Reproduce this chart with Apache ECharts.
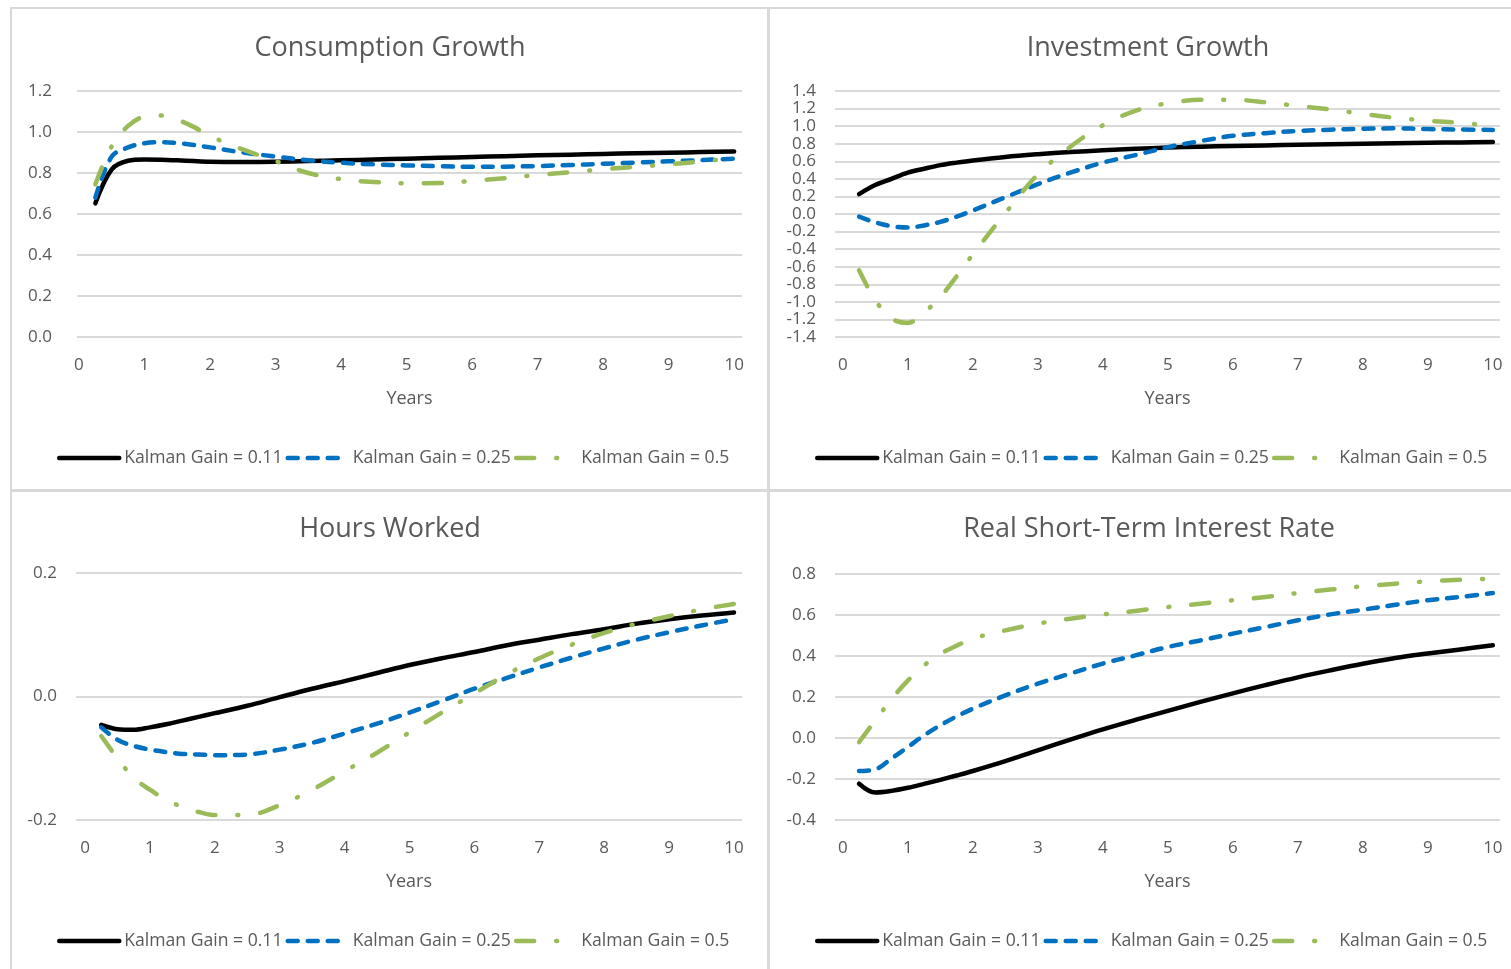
<!DOCTYPE html>
<html><head><meta charset="utf-8">
<script src="https://cdn.jsdelivr.net/npm/echarts@6/dist/echarts.min.js"></script>
<style>html,body{margin:0;padding:0;background:#fff}#c{width:1511px;height:969px}</style>
</head><body><div id="c"></div>
<script>
// ---- data ----
const years = [0.25,0.5,0.75,1,1.25,1.5,1.75,2,2.5,3,3.5,4,4.5,5,5.5,6,6.5,7,7.5,8,8.5,9,9.5,10];
const xTickLabels = [0,1,2,3,4,5,6,7,8,9,10];
const seriesNames = ['Kalman Gain = 0.11','Kalman Gain = 0.25','Kalman Gain = 0.5'];
const panelTitles = ['Consumption Growth','Investment Growth','Hours Worked','Real Short-Term Interest Rate'];

const consK011 = [0.652,0.818,0.860,0.866,0.865,0.862,0.858,0.855,0.854,0.855,0.858,0.862,0.866,0.870,0.874,0.878,0.882,0.886,0.889,0.893,0.896,0.899,0.902,0.905];
const consK025 = [0.68,0.88,0.925,0.945,0.95,0.946,0.937,0.925,0.90,0.88,0.862,0.85,0.842,0.837,0.833,0.83,0.831,0.834,0.839,0.845,0.851,0.857,0.863,0.87];
const consK05  = [0.745,0.93,1.03,1.075,1.08,1.06,1.025,0.98,0.915,0.858,0.80,0.77,0.756,0.75,0.751,0.762,0.775,0.79,0.804,0.818,0.83,0.842,0.857,0.872];

const invK011 = [0.227,0.33,0.40,0.47,0.515,0.556,0.585,0.61,0.65,0.68,0.705,0.725,0.742,0.756,0.766,0.775,0.781,0.787,0.793,0.80,0.805,0.81,0.815,0.82];
const invK025 = [-0.03,-0.095,-0.14,-0.155,-0.13,-0.09,-0.03,0.04,0.19,0.34,0.47,0.585,0.67,0.76,0.83,0.89,0.92,0.945,0.96,0.97,0.975,0.967,0.962,0.957];
const invK05  = [-0.64,-0.98,-1.19,-1.24,-1.12,-0.945,-0.71,-0.46,0.01,0.45,0.765,1.01,1.175,1.26,1.30,1.30,1.272,1.23,1.19,1.14,1.095,1.062,1.038,1.0];

const hoursK011 = [-0.046,-0.053,-0.054,-0.05,-0.045,-0.039,-0.033,-0.027,-0.015,-0.001,0.0126,0.025,0.038,0.051,0.062,0.072,0.083,0.092,0.101,0.109,0.118,0.125,0.131,0.136];
const hoursK025 = [-0.05,-0.07,-0.08,-0.086,-0.09,-0.093,-0.094,-0.095,-0.094,-0.086,-0.075,-0.06,-0.044,-0.026,-0.007,0.0126,0.03,0.047,0.063,0.078,0.092,0.104,0.115,0.125];
const hoursK05  = [-0.064,-0.10,-0.132,-0.151,-0.167,-0.179,-0.187,-0.192,-0.192,-0.176,-0.151,-0.121,-0.091,-0.058,-0.026,0.005,0.036,0.062,0.084,0.103,0.118,0.13,0.141,0.15];

const rateK011 = [-0.223,-0.266,-0.258,-0.243,-0.224,-0.204,-0.183,-0.161,-0.113,-0.06,-0.008,0.042,0.088,0.132,0.176,0.218,0.258,0.296,0.33,0.362,0.39,0.412,0.432,0.452];
const rateK025 = [-0.161,-0.153,-0.10,-0.044,0.013,0.062,0.105,0.143,0.208,0.265,0.314,0.363,0.403,0.444,0.476,0.509,0.541,0.574,0.603,0.626,0.65,0.672,0.688,0.707];
const rateK05  = [-0.02,0.086,0.19,0.28,0.354,0.41,0.45,0.485,0.525,0.558,0.582,0.603,0.62,0.639,0.655,0.672,0.688,0.707,0.724,0.74,0.753,0.764,0.772,0.777];

// ---- styling / layout ----
const FONT = "'Open Sans', 'Noto Sans', sans-serif";
const GRAY = '#595959';
const GRID_C = '#D9D9D9';
const lineStyles = [
  {color:'#000000', width:4.5, type:'solid', cap:'round', join:'round'},
  {color:'#0070C0', width:4.5, type:[10,10], cap:'round', join:'round'},
  {color:'#9BBB59', width:4.5, type:[18,22,1,22], cap:'round', join:'round'}
];
const panels = [
  {data:[consK011,consK025,consK05], grid:{left:77, width:665, top:91, height:246}, x:[-0.03,10.12], y:[0,1.2], lblMargin:25, title:[390,35], legend:[57,449]},
  {data:[invK011,invK025,invK05], grid:{left:835, width:665, top:91, height:246}, x:[-0.12,10.11], y:[-1.4,1.4], lblMargin:19, title:[1148,35], legend:[815,449]},
  {data:[hoursK011,hoursK025,hoursK05], grid:{left:76, width:666, top:573, height:247}, x:[-0.139,10.123], y:[-0.2,0.2], lblMargin:19, title:[390,516], legend:[57,932]},
  {data:[rateK011,rateK025,rateK05], grid:{left:835, width:665, top:574, height:246}, x:[-0.12,10.11], y:[-0.4,0.8], lblMargin:19, title:[1149,516], legend:[815,932]}
];

const fmt = v => (Math.abs(v) < 1e-9 ? 0 : v).toFixed(1);
const option = {
  animation:false,
  backgroundColor:'#ffffff',
  title:[], legend:[], grid:[], xAxis:[], yAxis:[], series:[],
  graphic:[
    {type:'rect', shape:{x:11,y:8,width:757,height:482}, style:{fill:'none', stroke:GRID_C, lineWidth:2}},
    {type:'rect', shape:{x:769,y:8,width:760,height:482}, style:{fill:'none', stroke:GRID_C, lineWidth:2}},
    {type:'rect', shape:{x:11,y:491,width:757,height:500}, style:{fill:'none', stroke:GRID_C, lineWidth:2}},
    {type:'rect', shape:{x:769,y:491,width:760,height:500}, style:{fill:'none', stroke:GRID_C, lineWidth:2}}
  ]
};
panels.forEach((p, i) => {
  option.title.push({text:panelTitles[i], left:p.title[0], top:p.title[1], textAlign:'center', padding:0,
    textStyle:{fontFamily:FONT, fontSize:27, fontWeight:'normal', color:GRAY}});
  option.legend.push({data:seriesNames, left:p.legend[0], top:p.legend[1], padding:0, itemWidth:60, itemHeight:14, itemGap:3,
    itemStyle:{opacity:0}, lineStyle:{width:4.5, cap:'round'},
    textStyle:{fontFamily:FONT, fontSize:17.6, color:GRAY}});
  option.grid.push(Object.assign({containLabel:false}, p.grid));
  option.xAxis.push({type:'value', gridIndex:i, min:p.x[0], max:p.x[1],
    axisLine:{show:false}, axisTick:{show:false}, splitLine:{show:false},
    axisLabel:{customValues:xTickLabels, color:GRAY, fontFamily:FONT, fontSize:17, margin:20},
    name:'Years', nameLocation:'middle', nameGap:53,
    nameTextStyle:{color:GRAY, fontFamily:FONT, fontSize:18}});
  option.yAxis.push({type:'value', gridIndex:i, min:p.y[0], max:p.y[1], interval:0.2,
    axisLine:{show:false}, axisTick:{show:false},
    splitLine:{show:true, lineStyle:{color:GRID_C, width:2}},
    axisLabel:{formatter:fmt, color:GRAY, fontFamily:FONT, fontSize:17, margin:p.lblMargin}});
  p.data.forEach((arr, k) => {
    option.series.push({type:'line', name:seriesNames[k], xAxisIndex:i, yAxisIndex:i,
      data: years.map((x, j) => [x, arr[j]]), symbol:'none', showSymbol:false, smooth:0.35,
      lineStyle:lineStyles[k], itemStyle:{color:lineStyles[k].color}});
  });
});
const chart = echarts.init(document.getElementById('c'), null, {renderer:'canvas'});
chart.setOption(option);
</script></body></html>
